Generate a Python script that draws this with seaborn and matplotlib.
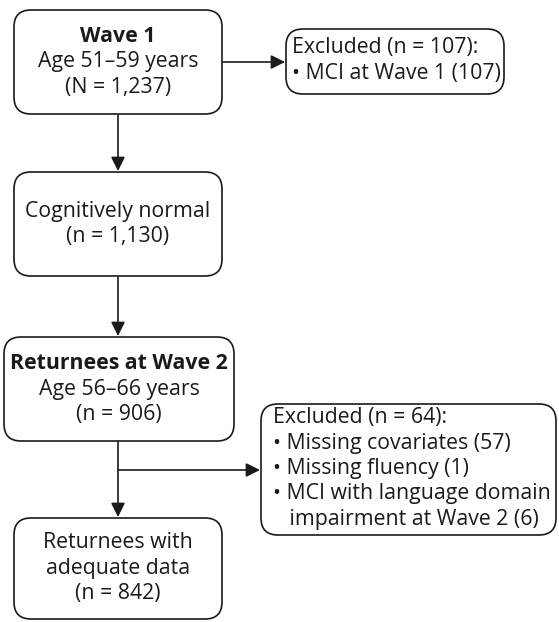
import matplotlib
matplotlib.use("Agg")
import matplotlib.pyplot as plt
import seaborn as sns
from matplotlib.patches import FancyBboxPatch

# flowchart content
main_titles = ["Wave 1", "", "Returnees at Wave 2", ""]
main_lines = [
    ["Age 51\u201359 years", "(N = 1,237)"],
    ["Cognitively normal", "(n = 1,130)"],
    ["Age 56\u201366 years", "(n = 906)"],
    ["Returnees with", "adequate data", "(n = 842)"],
]
excl_lines = [
    ["Excluded (n = 107):", "\u2022 MCI at Wave 1 (107)"],
    ["Excluded (n = 64):", "\u2022 Missing covariates (57)", "\u2022 Missing fluency (1)",
     "\u2022 MCI with language domain", "   impairment at Wave 2 (6)"],
]

# box geometry in pixel space (x0, y0, x1, y1)
main_boxes = [(13, 9, 223, 115), (13, 171, 223, 277), (3, 336, 235, 442), (13, 517, 223, 620)]
excl_boxes = [(285, 28, 505, 95), (260, 403, 557, 536)]
excl_pad = [7, 13]

sns.set_theme(style="white")
plt.rcParams['font.family'] = ['Open Sans', 'DejaVu Sans']

fig = plt.figure(figsize=(5.59, 6.22), dpi=100)
ax = fig.add_axes([0, 0, 1, 1])
ax.set_xlim(0, 559)
ax.set_ylim(622, 0)
ax.axis("off")

ink = "#1a1a1a"
fs = 15.3
lh = 25.5


def draw_box(b):
    x0, y0, x1, y1 = b
    p = FancyBboxPatch((x0 + 1, y0 + 1), x1 - x0 - 2, y1 - y0 - 2,
                       boxstyle="round,pad=0,rounding_size=17",
                       fc="white", ec=ink, lw=1.2)
    ax.add_patch(p)


def arrow(x0, y0, x1, y1):
    ax.annotate("", xy=(x1, y1), xytext=(x0, y0),
                arrowprops=dict(arrowstyle="-|>,head_length=0.7,head_width=0.35",
                                color=ink, lw=1.2, shrinkA=0, shrinkB=0))


for b, title, lines in zip(main_boxes, main_titles, main_lines):
    draw_box(b)
    x0, y0, x1, y1 = b
    cx = (x0 + x1) / 2
    items = ([title] if title else []) + lines
    n = len(items)
    cy = (y0 + y1) / 2
    start = cy - (n - 1) * lh / 2
    for i, t in enumerate(items):
        ax.text(cx, start + i * lh, t, ha="center", va="center", fontsize=fs,
                color=ink, fontweight="bold" if (title and i == 0) else "normal")

for b, pad, lines in zip(excl_boxes, excl_pad, excl_lines):
    draw_box(b)
    x0, y0, x1, y1 = b
    n = len(lines)
    cy = (y0 + y1) / 2
    start = cy - (n - 1) * lh / 2 - 1
    for i, t in enumerate(lines):
        ax.text(x0 + pad, start + i * lh, t, ha="left", va="center", fontsize=fs, color=ink)

cx = 118
arrow(cx, 115, cx, 171)
arrow(cx, 277, cx, 336)
arrow(cx, 442, cx, 517)
arrow(223, 62, 285, 62)
arrow(cx, 470, 260, 470)

fig.savefig("out.png", dpi=100)
